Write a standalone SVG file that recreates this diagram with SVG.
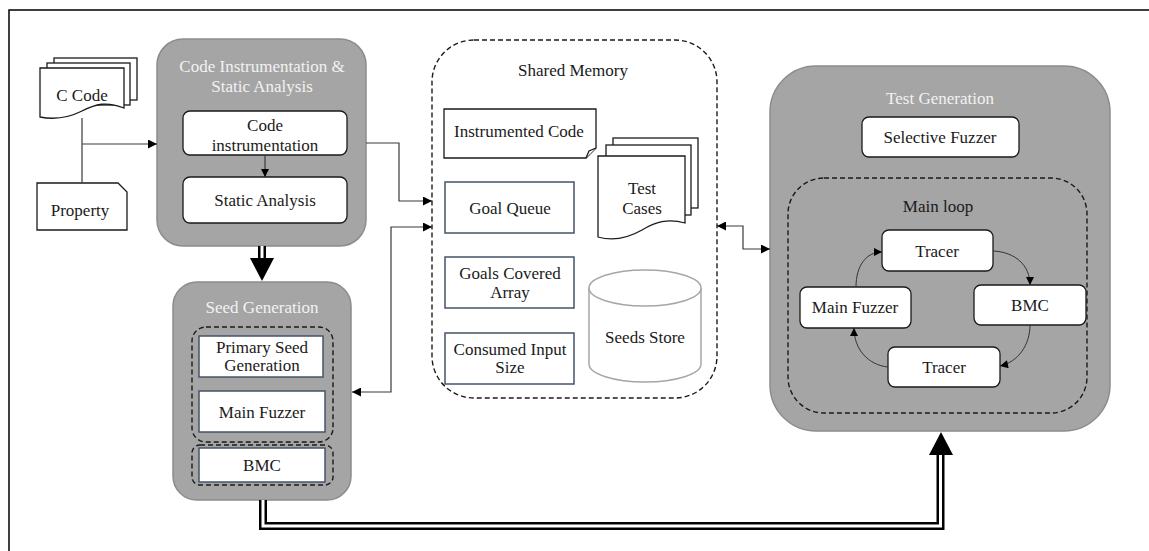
<svg xmlns="http://www.w3.org/2000/svg" width="1149" height="551" viewBox="0 0 1149 551" font-family="'Liberation Serif', 'DejaVu Serif', serif">
<defs>
<style>
text{font-family:'Liberation Serif','DejaVu Serif',serif;font-size:17px;text-anchor:middle;fill:#1a1a1a}
.ttl{fill:#f2f2f2}
.gray{fill:#a5a5a5;stroke:#8c8c8c;stroke-width:1.5}
.wbox{fill:#fff;stroke:#1a1a1a;stroke-width:1.3}
.sbox{fill:#fff;stroke:#44546a;stroke-width:1.5}
.doc{fill:#fff;stroke:#1a1a1a;stroke-width:1.3}
.dash{fill:none;stroke:#1a1a1a;stroke-width:1.4;stroke-dasharray:5 3}
.conn{fill:none;stroke:#3a3a3a;stroke-width:1.2}
.curve{fill:none;stroke:#333;stroke-width:1}
</style>
<marker id="ah" viewBox="0 0 10 10" refX="10" refY="5" markerWidth="10" markerHeight="9" markerUnits="userSpaceOnUse" orient="auto-start-reverse">
<path d="M0 0 L10 5 L0 10 Z" fill="#000"/>
</marker>
<marker id="ahs" viewBox="0 0 10 10" refX="10" refY="5" markerWidth="9" markerHeight="8" markerUnits="userSpaceOnUse" orient="auto">
<path d="M0 0 L10 5 L0 10 Z" fill="#000"/>
</marker>
</defs>
<rect x="9" y="10" width="1200" height="600" fill="#fff" stroke="#000" stroke-width="1.5"/>

<g id="c-code">
<rect x="54" y="58" width="83" height="42" class="doc"/>
<rect x="47" y="63" width="83" height="42" class="doc"/>
<path d="M40 68 H124 V108 C106 101 96 104 82 111 C68 118 55 120 40 117 Z" class="doc"/>
<text x="82" y="101">C Code</text>
</g>

<g id="property">
<path d="M37 183 H118 L127 192 V230 H37 Z" class="doc"/>
<text x="80" y="216">Property</text>
</g>

<g id="code-instrumentation-static-analysis">
<rect x="157" y="39" width="209" height="207" rx="26" class="gray"/>
<text x="262" y="72" class="ttl">Code Instrumentation &amp;</text>
<text x="262" y="92" class="ttl">Static Analysis</text>
</g>
<g id="code-instrumentation">
<rect x="183" y="111" width="164" height="44" rx="7" class="wbox"/>
<text x="265" y="131">Code</text>
<text x="265" y="151">instrumentation</text>
</g>
<g id="static-analysis">
<rect x="183" y="177" width="164" height="46" rx="7" class="wbox"/>
<text x="265" y="206">Static Analysis</text>
</g>

<g id="seed-generation">
<rect x="173" y="282" width="178" height="218" rx="24" class="gray"/>
<text x="262" y="313" class="ttl">Seed Generation</text>
<rect x="192" y="327" width="141" height="115" rx="14" class="dash"/>
<rect x="192" y="445" width="141" height="40" rx="8" class="dash"/>
</g>
<g id="primary-seed-generation">
<rect x="199" y="336" width="124" height="41" class="sbox"/>
<text x="262" y="353">Primary Seed</text>
<text x="262" y="371">Generation</text>
</g>
<g id="seed-main-fuzzer">
<rect x="199" y="391" width="126" height="41" class="sbox"/>
<text x="262" y="418">Main Fuzzer</text>
</g>
<g id="seed-bmc">
<rect x="199" y="448" width="126" height="34" class="sbox"/>
<text x="262" y="471">BMC</text>
</g>

<g id="shared-memory">
<rect x="432" y="40" width="285" height="358" rx="42" class="dash"/>
<text x="573" y="76">Shared Memory</text>
</g>
<g id="instrumented-code">
<path d="M444 109 H596 V148 L586 158 H444 Z" class="doc"/>
<path d="M586 158 L589 151 L596 148" class="doc"/>
<text x="519" y="137">Instrumented Code</text>
</g>
<g id="goal-queue">
<rect x="445" y="182" width="129" height="51" class="sbox"/>
<text x="510" y="214">Goal Queue</text>
</g>
<g id="goals-covered-array">
<rect x="445" y="257" width="129" height="51" class="sbox"/>
<text x="510" y="279">Goals Covered</text>
<text x="510" y="298">Array</text>
</g>
<g id="consumed-input-size">
<rect x="445" y="333" width="129" height="51" class="sbox"/>
<text x="510" y="355">Consumed Input</text>
<text x="510" y="373">Size</text>
</g>
<g id="test-cases">
<rect x="613" y="138" width="85" height="70" class="doc"/>
<rect x="606" y="145" width="85" height="70" class="doc"/>
<path d="M598 156 H685 V223 C668 218 655 222 642 230 C628 238 612 241 598 237 Z" class="doc"/>
<text x="642" y="194">Test</text>
<text x="642" y="214">Cases</text>
</g>
<g id="seeds-store">
<path d="M589 288 V364 A56 18 0 0 0 701 364 V288" fill="#fff" stroke="#a6a6a6" stroke-width="1.5"/>
<ellipse cx="645" cy="288" rx="56" ry="18" fill="#fff" stroke="#a6a6a6" stroke-width="1.5"/>
<text x="645" y="343">Seeds Store</text>
</g>

<g id="test-generation">
<rect x="770" y="66" width="340" height="365" rx="46" class="gray"/>
<text x="940" y="104" class="ttl">Test Generation</text>
</g>
<g id="selective-fuzzer">
<rect x="862" y="117" width="157" height="40" rx="7" class="wbox"/>
<text x="940" y="143">Selective Fuzzer</text>
</g>
<g id="main-loop">
<rect x="788" y="178" width="299" height="235" rx="36" class="dash"/>
<text x="938" y="212">Main loop</text>
</g>
<g id="tracer-top">
<rect x="882" y="230" width="111" height="41" rx="7" class="wbox"/>
<text x="937" y="257">Tracer</text>
</g>
<g id="loop-bmc">
<rect x="974" y="285" width="112" height="40" rx="7" class="wbox"/>
<text x="1030" y="311">BMC</text>
</g>
<g id="loop-main-fuzzer">
<rect x="800" y="287" width="111" height="41" rx="7" class="wbox"/>
<text x="855" y="313">Main Fuzzer</text>
</g>
<g id="tracer-bottom">
<rect x="888" y="347" width="112" height="40" rx="7" class="wbox"/>
<text x="944" y="373">Tracer</text>
</g>

<g id="connectors">
<path d="M82 118 V183" class="conn"/>
<path d="M82 144 H157" class="conn" marker-end="url(#ah)"/>
<path d="M265 155 V177" class="conn" marker-end="url(#ahs)"/>
<path d="M366 143 H399 V201 H432" class="conn" marker-end="url(#ah)"/>
<path d="M352 392 H391 V227 H432" class="conn" marker-start="url(#ah)" marker-end="url(#ah)"/>
<path d="M717 226 H743 V249 H770" class="conn" marker-start="url(#ah)" marker-end="url(#ah)"/>
<path d="M856 287 C856 266 866 252 882 252" class="curve" marker-end="url(#ahs)"/>
<path d="M993 251 C1015 252 1030 265 1030 285" class="curve" marker-end="url(#ahs)"/>
<path d="M1030 325 C1030 345 1018 362 1000 366" class="curve" marker-end="url(#ahs)"/>
<path d="M888 367 C868 365 854 349 854 328" class="curve" marker-end="url(#ahs)"/>
<path d="M262 246 V259" fill="none" stroke="#000" stroke-width="8"/>
<path d="M262 246 V259" fill="none" stroke="#fff" stroke-width="3"/>
<path d="M250 258 H274 L262 281 Z" fill="#000"/>
<path d="M263 500 V526 H940.5 V454" fill="none" stroke="#000" stroke-width="8"/>
<path d="M263 500 V526 H940.5 V452" fill="none" stroke="#fff" stroke-width="3"/>
<path d="M929 455 H953 L941 432 Z" fill="#000"/>
</g>
</svg>
